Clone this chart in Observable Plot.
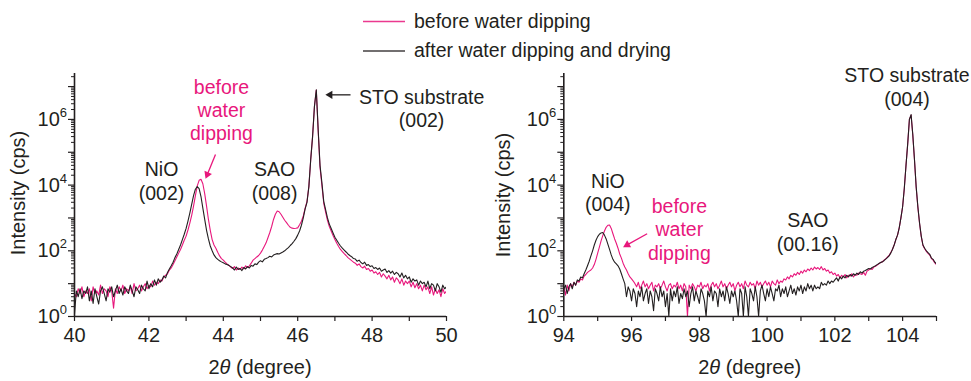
<!DOCTYPE html>
<html><head><meta charset="utf-8">
<script src="https://cdn.jsdelivr.net/npm/d3@7"></script>
<script src="https://cdn.jsdelivr.net/npm/@observablehq/plot@0.6"></script>
<style>
html,body{margin:0;padding:0;background:#fff;}
#wrap{position:relative;width:971px;height:381px;overflow:hidden;font-family:"Liberation Sans",Arial,Helvetica,sans-serif;}
#left,#right{position:absolute;top:0;}
#left{left:0;} #right{left:480px;}
#legend{position:absolute;left:0;top:0;pointer-events:none;}
svg{overflow:visible;}
</style></head>
<body><div id="wrap"><div id="left"></div><div id="right"></div><svg id="legend" width="971" height="70"></svg></div>
<script>
// ---------- Left panel: 2θ = 40–50° ----------
const leftTheta = [
40,40.05,40.1,40.15,40.2,40.25,40.3,40.35,40.4,40.45,40.5,40.55,40.6,40.65,40.7,40.75,40.8,40.85,40.9,40.95,
41,41.05,41.1,41.15,41.2,41.25,41.3,41.35,41.4,41.45,41.5,41.55,41.6,41.65,41.7,41.75,41.8,41.85,41.9,41.95,
42,42.05,42.1,42.15,42.2,42.25,42.3,42.35,42.4,42.45,42.5,42.55,42.6,42.65,42.7,42.75,42.8,42.85,42.9,42.95,
43,43.05,43.1,43.15,43.2,43.25,43.3,43.35,43.4,43.45,43.5,43.55,43.6,43.65,43.7,43.75,43.8,43.85,43.9,43.95,
44,44.05,44.1,44.15,44.2,44.25,44.3,44.35,44.4,44.45,44.5,44.55,44.6,44.65,44.7,44.75,44.8,44.85,44.9,44.95,
45,45.05,45.1,45.15,45.2,45.25,45.3,45.35,45.4,45.45,45.5,45.55,45.6,45.65,45.7,45.75,45.8,45.85,45.9,45.95,
46,46.05,46.1,46.15,46.2,46.25,46.3,46.35,46.4,46.45,46.5,46.55,46.6,46.65,46.7,46.75,46.8,46.85,46.9,46.95,
47,47.05,47.1,47.15,47.2,47.25,47.3,47.35,47.4,47.45,47.5,47.55,47.6,47.65,47.7,47.75,47.8,47.85,47.9,47.95,
48,48.05,48.1,48.15,48.2,48.25,48.3,48.35,48.4,48.45,48.5,48.55,48.6,48.65,48.7,48.75,48.8,48.85,48.9,48.95,
49,49.05,49.1,49.15,49.2,49.25,49.3,49.35,49.4,49.45,49.5,49.55,49.6,49.65,49.7,49.75,49.8,49.85,49.9,49.95,
50];
// intensity (cps), after water dipping and drying
const leftAfter = [
1.2,6,4,7,3.5,6,5,8,3,6,2.5,7,4,2.4,6,8,5,3,7,5.5,
8,4,6,9,5,7,4.5,8,6,5,9,6,4,8,6.5,5,9,7,6,12,
7,10,8,13,9,14,11,13,17,15,22,28,35,45,62,80,110,150,220,320,
480,800,1400,2600,4800,7500,9000,7800,4500,2000,900,420,230,140,100,75,62,55,50,46,
43,40,38,36,33,30,26,32,27,29,25,31,28,33,30,36,34,40,38,45,
50,46,55,58,62,68,65,74,78,82,80,86,92,100,112,125,145,165,195,235,
300,400,600,1000,1900,3000,9000,60000,300000,2500000,8000000,500000,40000,12000,3200,1800,1000,650,480,350,
260,210,170,140,120,105,92,80,72,66,58,56,48,52,44,40,45,36,38,33,
35,29,31,27,30,24,26,28,22,25,21,24,19,22,20,16,21,15,18,14,
16,11,14,12,13,9,12,10,11,8,12,7,10,9,6,10,8,5.5,9,7,
8];
// intensity (cps), before water dipping
const leftBefore = [
5,4,7,5,8,4,6,5,7,3,8,5,6,4.5,9,5,7,6,4,8,
6,1.8,7,5,8,6,9,5,7,6,8,5,10,6,7,9,6,8,10,7,
9,8,12,9,11,10,13,12,16,18,20,26,30,38,50,65,85,110,150,210,
280,430,700,1200,2300,4800,9500,14000,15000,11000,5500,2300,900,420,220,150,120,90,70,58,
52,45,40,36,32,29,33,26,30,27,32,28,35,31,35,42,52,58,65,72,
85,105,135,175,250,360,550,900,1300,1620,1550,1300,1050,850,720,600,520,490,480,485,
500,620,800,1150,2000,3200,9000,60000,300000,2500000,7800000,450000,35000,10000,2800,1500,850,550,400,290,
220,170,135,110,95,82,72,62,56,50,45,42,36,40,33,30,34,27,29,24,
26,21,23,19,22,16,20,17,14,18,13,16,11,15,13,10,14,9,12,10,
12,8,11,7.5,10,7,9,6,9,6.5,8,5,8,4.5,7,5,6.5,4,7,5,
6];

// ---------- Right panel: 2θ = 94–105° ----------
const rightTheta = [
94,94.05,94.1,94.15,94.2,94.25,94.3,94.35,94.4,94.45,94.5,94.55,94.6,94.65,94.7,94.75,94.8,94.85,94.9,94.95,
95,95.05,95.1,95.15,95.2,95.25,95.3,95.35,95.4,95.45,95.5,95.55,95.6,95.65,95.7,95.75,95.8,95.85,95.9,95.95,
96,96.05,96.1,96.15,96.2,96.25,96.3,96.35,96.4,96.45,96.5,96.55,96.6,96.65,96.7,96.75,96.8,96.85,96.9,96.95,
97,97.05,97.1,97.15,97.2,97.25,97.3,97.35,97.4,97.45,97.5,97.55,97.6,97.65,97.7,97.75,97.8,97.85,97.9,97.95,
98,98.05,98.1,98.15,98.2,98.25,98.3,98.35,98.4,98.45,98.5,98.55,98.6,98.65,98.7,98.75,98.8,98.85,98.9,98.95,
99,99.05,99.1,99.15,99.2,99.25,99.3,99.35,99.4,99.45,99.5,99.55,99.6,99.65,99.7,99.75,99.8,99.85,99.9,99.95,
100,100.05,100.1,100.15,100.2,100.25,100.3,100.35,100.4,100.45,100.5,100.55,100.6,100.65,100.7,100.75,100.8,100.85,100.9,100.95,
101,101.05,101.1,101.15,101.2,101.25,101.3,101.35,101.4,101.45,101.5,101.55,101.6,101.65,101.7,101.75,101.8,101.85,101.9,101.95,
102,102.05,102.1,102.15,102.2,102.25,102.3,102.35,102.4,102.45,102.5,102.55,102.6,102.65,102.7,102.75,102.8,102.85,102.9,102.95,
103,103.05,103.1,103.15,103.2,103.25,103.3,103.35,103.4,103.45,103.5,103.55,103.6,103.65,103.7,103.75,103.8,103.85,103.9,103.95,
104,104.05,104.1,104.15,104.2,104.25,104.3,104.35,104.4,104.45,104.5,104.55,104.6,104.65,104.7,104.75,104.8,104.85,104.9,104.95,
105];
const rightAfter = [
7,9,5,8,10,7,11,9,13,12,16,15,20,26,35,48,70,100,150,210,
270,320,350,360,300,230,160,110,75,55,45,40,35,28,20,14,10,4,8,6,
3,7,5,2,6,4,8,3,5,7,2.5,6,4,1.5,7,5,3,8,4,6,
2,5,1,7,3,6,4,8,2.5,5,3.5,7,4,6,2,5,8,3,6,4,
2.5,7,5,3,1,6,4,8,3,6,5,2,7,4,6,3,8,5,2.5,6,
4,6,3,1,7,5,1,8,4,1,7,5,3,8,4,1,6,9,5,3,
7,4,8,5,3,7,6,9,4,7,5,8,4,6,9,5,7,4.5,8,6,
9,5,8,6,10,7,9,6,9,7,8,7,11,9,10,9,12,10,12,11,
13,15,12,16,14,17,15,18,16,19,17,20,18,21,19,23,21,24,25,27,
29,28,31,33,35,38,41,44,46,50,56,62,70,85,110,150,220,300,500,1000,
2200,8000,40000,180000,1000000,1400000,350000,60000,9000,2200,700,280,150,120,100,88,78,60,55,45,
40];
const rightBefore = [
8,4.5,9,6,10,8,11,9,12,11,14,13,17,19,22,24,26,30,38,55,
85,130,200,290,400,520,600,610,480,330,230,170,120,80,60,42,32,26,20,16,
14,12,10,8,11,7,9,12,8,10,7,9,11,6,9,8,10,7,9,12,
8,6,9,10,7,9,8,11,7,9,6,10,8,1,9,7,10,8,6,9,
8,11,7,9,8,10,6,9,11,8,10,7,9,12,8,10,7,9,11,8,
10,6,9,11,8,10,7,12,9,8,11,9,10,7,12,9,11,8,10,12,
9,11,8,12,10,9,13,10,12,11,14,13,16,14,18,16,20,18,22,19,
24,21,26,23,28,25,30,26,32,28,31,27,33,26,29,24,26,21,23,19,
21,17,19,15,18,16,19,15,18,17,20,16,19,18,21,20,19,22,18,24,
26,29,27,32,34,37,40,44,46,52,57,64,72,88,112,150,220,300,500,1000,
2200,8000,40000,180000,1000000,1350000,330000,58000,8500,2100,680,270,145,115,96,84,74,58,52,43,
38];

// ---------- Axes / ticks / text ----------
const leftXTicks = [40,41,42,43,44,45,46,47,48,49,50];
const leftXLabels = [40,42,44,46,48,50];
const rightXTicks = [94,95,96,97,98,99,100,101,102,103,104,105];
const rightXLabels = [94,96,98,100,102,104];
const yMajor = [1,10,100,1e3,1e4,1e5,1e6,1e7];
const yLabeled = [1,100,1e4,1e6];
const yMultipliers = [2,3,4,5,6,7,8,9];
const yTop = 2.5e7;
const seriesNames = ["before water dipping", "after water dipping and drying"];
const yTitle = "Intensity (cps)";

const leftNotes = [
  {x: 43.95, y: 229000, text: "before\nwater\ndipping", kind: "before"},
  {x: 42.34, y: 3550, text: "NiO\n(002)", kind: "label"},
  {x: 45.38, y: 3550, text: "SAO\n(008)", kind: "label"},
  {x: 49.33, y: 575000, text: "STO substrate\n(002)", kind: "label"}
];
const leftArrows = [
  {x1: 43.79, y1: 85000, x2: 43.57, y2: 21000, rotate: -157.6, kind: "before"},
  {x1: 47.42, y1: 5.6e6, x2: 46.87, y2: 5.6e6, rotate: -90, kind: "label"}
];
const rightNotes = [
  {x: 104.13, y: 2.6e6, text: "STO substrate\n(004)", kind: "label"},
  {x: 95.30, y: 1620, text: "NiO\n(004)", kind: "label"},
  {x: 97.41, y: 54, text: "before\nwater\ndipping", kind: "before"},
  {x: 101.2, y: 102, text: "SAO\n(00.16)", kind: "label"}
];
const rightArrows = [
  {x1: 96.46, y1: 331, x2: 95.87, y2: 151, rotate: -119.2, kind: "before"}
];

if (leftAfter.length !== leftTheta.length || leftBefore.length !== leftTheta.length) throw new Error("left lengths " + leftTheta.length + " " + leftAfter.length + " " + leftBefore.length);
if (rightAfter.length !== rightTheta.length || rightBefore.length !== rightTheta.length) throw new Error("right lengths " + rightTheta.length + " " + rightAfter.length + " " + rightBefore.length);

const FONT = '"Liberation Sans", Arial, Helvetica, sans-serif';
const INK = "#231f20", PINK = "#e8177c";
const colorOf = k => k === "before" ? PINK : INK;
const yMinor = yMajor.flatMap(d => yMultipliers.map(k => d * k)).filter(v => v <= yTop);
const NS = "http://www.w3.org/2000/svg";

function panel(o) {
  const rows = o.theta.map((t, i) => ({t, before: o.before[i], after: o.after[i]}));
  const svg = Plot.plot({
    width: o.width, height: 381,
    marginLeft: o.marginLeft, marginRight: o.marginRight, marginTop: 73, marginBottom: 65,
    x: {domain: o.xDomain, label: null},
    y: {type: "log", domain: [1, yTop], label: null},
    style: {fontFamily: FONT, fontSize: "20px", color: INK, background: "transparent", overflow: "visible"},
    marks: [
      Plot.axisY(yMinor, {anchor: "left", tickSize: 3, tickFormat: () => "", stroke: INK, strokeWidth: 1}),
      Plot.axisY(yMajor, {anchor: "left", tickSize: 6, tickPadding: 1.5, stroke: INK, strokeWidth: 1.2, fill: INK,
        tickFormat: d => yLabeled.includes(d) ? "10^" + Math.round(Math.log10(d)) : ""}),
      Plot.axisX(o.xTicks, {anchor: "bottom", tickSize: 5, tickPadding: 6, stroke: INK, strokeWidth: 1.2, fill: INK,
        tickFormat: d => o.xLabels.includes(d) ? String(d) : ""}),
      Plot.line(rows, {x: "t", y: "before", stroke: PINK, strokeWidth: 1.1, clip: true}),
      Plot.line(rows, {x: "t", y: "after", stroke: INK, strokeWidth: 1.1, clip: true}),
      Plot.ruleX([o.xDomain[0]], {stroke: INK, strokeWidth: 1.6}),
      Plot.ruleY([1], {stroke: INK, strokeWidth: 1.6}),
      Plot.text(o.notes, {x: "x", y: "y", text: "text", fill: d => colorOf(d.kind), fontSize: 19.5,
        lineAnchor: "bottom", lineHeight: 1.2, textAnchor: "middle"}),
      Plot.link(o.arrows, {x1: "x1", y1: "y1", x2: "x2", y2: "y2", stroke: d => colorOf(d.kind), strokeWidth: 1.3}),
      Plot.dot(o.arrows, {x: "x2", y: "y2", symbol: "triangle", r: 3, fill: d => colorOf(d.kind), stroke: "none", rotate: "rotate"})
    ]
  });
  // superscript exponents on y tick labels
  svg.querySelectorAll('[aria-label="y-axis tick label"] text').forEach(t => {
    const m = t.textContent.match(/^10\^(\d+)$/);
    if (m) {
      t.textContent = "10";
      const ts = document.createElementNS(NS, "tspan");
      ts.setAttribute("dy", "-9");
      ts.setAttribute("font-size", "13");
      ts.textContent = m[1];
      t.appendChild(ts);
    }
  });
  const s = d3.select(svg);
  s.append("text").attr("transform", `translate(${o.yTitleX},${o.yTitleY}) rotate(-90)`)
    .attr("text-anchor", "middle").attr("font-size", 20).attr("fill", INK).text(yTitle);
  const xt = s.append("text").attr("x", o.xTitleX).attr("y", 374).attr("text-anchor", "middle")
    .attr("font-size", 20).attr("fill", INK);
  xt.append("tspan").text("2");
  xt.append("tspan").attr("font-style", "italic").text("θ");
  xt.append("tspan").text(" (degree)");
  return svg;
}

document.getElementById("left").appendChild(panel({
  theta: leftTheta, before: leftBefore, after: leftAfter, xDomain: [40, 50],
  xTicks: leftXTicks, xLabels: leftXLabels, width: 480, marginLeft: 74, marginRight: 34,
  notes: leftNotes, arrows: leftArrows, yTitleX: 25, yTitleY: 193, xTitleX: 260
}));
document.getElementById("right").appendChild(panel({
  theta: rightTheta, before: rightBefore, after: rightAfter, xDomain: [94, 105],
  xTicks: rightXTicks, xLabels: rightXLabels, width: 491, marginLeft: 83.3, marginRight: 35,
  notes: rightNotes, arrows: rightArrows, yTitleX: 30, yTitleY: 195, xTitleX: 269.7
}));

// legend
const lg = d3.select("#legend");
const legendColors = [PINK, INK];
seriesNames.forEach((name, i) => {
  const yLine = [21.5, 51][i], yText = [28, 57][i];
  lg.append("line").attr("x1", 363).attr("x2", 405).attr("y1", yLine).attr("y2", yLine)
    .attr("stroke", legendColors[i]).attr("stroke-width", 1.6).attr("opacity", 0.85);
  lg.append("text").attr("x", 414).attr("y", yText).attr("font-size", 19.5)
    .attr("font-family", FONT).attr("fill", INK).text(name);
});
</script>
</body></html>
